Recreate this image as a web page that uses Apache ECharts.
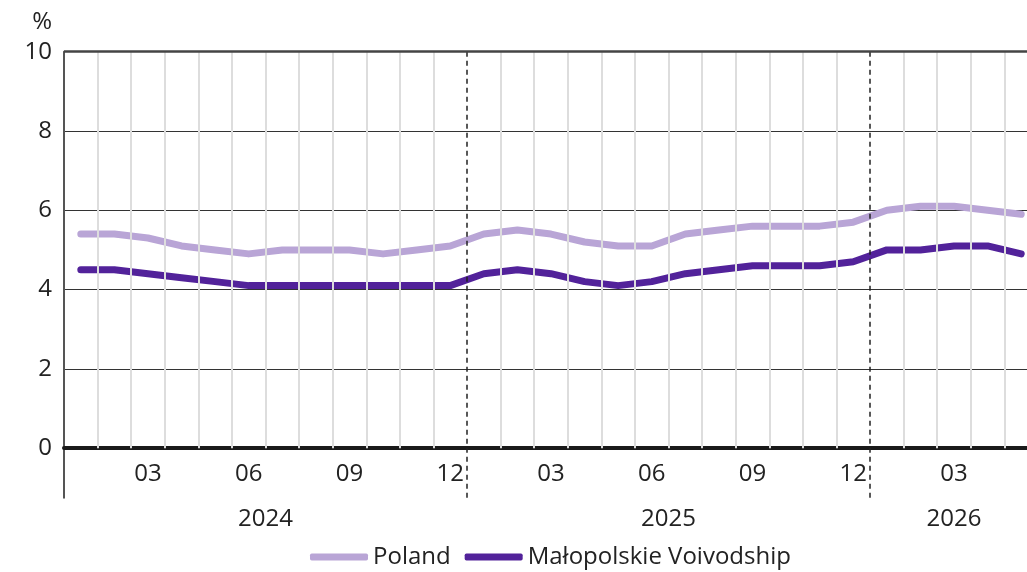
<!DOCTYPE html>
<html>
<head>
<meta charset="utf-8">
<script src="https://cdn.jsdelivr.net/npm/echarts@6/dist/echarts.min.js"></script>
<style>html,body{margin:0;padding:0;background:#fff;overflow:hidden}#c{width:1038px;height:572px}</style>
</head>
<body>
<div id="c"></div>
<script>
const months = ['2024-01','2024-02','2024-03','2024-04','2024-05','2024-06','2024-07','2024-08','2024-09','2024-10','2024-11','2024-12',
  '2025-01','2025-02','2025-03','2025-04','2025-05','2025-06','2025-07','2025-08','2025-09','2025-10','2025-11','2025-12',
  '2026-01','2026-02','2026-03','2026-04','2026-05'];
const poland = [5.4,5.4,5.3,5.1,5.0,4.9,5.0,5.0,5.0,4.9,5.0,5.1,
  5.4,5.5,5.4,5.2,5.1,5.1,5.4,5.5,5.6,5.6,5.6,5.7,
  6.0,6.1,6.1,6.0,5.9];
const malopolska = [4.5,4.5,4.4,4.3,4.2,4.1,4.1,4.1,4.1,4.1,4.1,4.1,
  4.4,4.5,4.4,4.2,4.1,4.2,4.4,4.5,4.6,4.6,4.6,4.7,
  5.0,5.0,5.1,5.1,4.9];
const yTicks = [0,2,4,6,8,10];
const shownMonths = ['03','06','09','12'];
const seriesNames = ['Poland','Małopolskie Voivodship'];
const yMin = -1.25, yMax = 10;

const FONT = 'Open Sans';
const GRID = {left:64, right:0, top:51.7, bottom:74.3};
const H = 572;
const n = months.length;
const gridH = H - GRID.top - GRID.bottom;
const zeroOffset = -(0 - yMin) * gridH / (yMax - yMin);

const years = [];
months.forEach((m, i) => {
  const y = m.slice(0,4);
  if (!years.length || years[years.length-1].year !== y) years.push({year:y, start:i, end:i+1});
  else years[years.length-1].end = i+1;
});
const yearCenters = years.map(y => (y.start + y.end)/2);
const yearStarts = years.slice(1).map(y => y.start);

const gridLines = [];
for (let k = 1; k < n; k++) {
  if (yearStarts.indexOf(k) >= 0) continue;
  gridLines.push([{coord:[k,0]},{coord:[k,yMax]}]);
}
const dashLines = yearStarts.map(k => [{coord:[k,yMin],lineStyle:{color:'#222',width:1.5,type:[5,4]}},{coord:[k,yMax]}]);
const topLine = [[{coord:[0,yMax],lineStyle:{color:'#444',width:2.5,type:'solid'}},{coord:[n,yMax]}]];

const chart = echarts.init(document.getElementById('c'), null, {renderer:'canvas'});
chart.setOption({
  animation:false,
  textStyle:{fontFamily:FONT},
  grid:Object.assign({containLabel:false}, GRID),
  legend:{
    data:seriesNames, left:305, top:540, icon:'roundRect', itemWidth:58, itemHeight:7, itemGap:14,
    textStyle:{fontFamily:FONT, fontSize:24, color:'#222'}
  },
  xAxis:[{
    type:'category', data:months, boundaryGap:true, position:'bottom', offset:zeroOffset,
    axisLine:{onZero:false, lineStyle:{color:'#1a1a1a', width:4}},
    axisTick:{show:false},
    splitLine:{show:false},
    axisLabel:{
      interval:(i, v) => shownMonths.indexOf(v.slice(5)) >= 0,
      formatter:v => v.slice(5), fontSize:24, color:'#222', margin:14, fontFamily:FONT
    }
  },{
    type:'value', min:0, max:n, position:'bottom',
    axisLine:{show:false, onZero:false}, axisTick:{show:false}, splitLine:{show:false},
    axisLabel:{
      customValues:yearCenters, fontSize:24, color:'#222', margin:9, fontFamily:FONT,
      formatter:v => { const i = yearCenters.indexOf(v); return i >= 0 ? years[i].year : ''; }
    }
  }],
  yAxis:{
    type:'value', min:yMin, max:yMax,
    name:'%', nameLocation:'end', nameGap:18,
    nameTextStyle:{fontSize:24, color:'#222', align:'right', padding:[0,12,0,0], fontFamily:FONT},
    axisLine:{show:true, onZero:false, lineStyle:{color:'#555', width:2}},
    axisTick:{show:false, customValues:yTicks},
    axisLabel:{customValues:yTicks, fontSize:24, color:'#222', margin:12, fontFamily:FONT},
    splitLine:{show:true, lineStyle:{color:'#333', width:1}}
  },
  series:[{
    name:'grid', type:'line', xAxisIndex:1, yAxisIndex:0, data:[], z:1, silent:true,
    markLine:{
      silent:true, symbol:['none','none'], label:{show:false}, animation:false,
      lineStyle:{color:'#dddddd', width:2, type:'solid'},
      data: gridLines.concat(dashLines).concat(topLine)
    }
  },{
    name:seriesNames[0], type:'line', data:poland, xAxisIndex:0, showSymbol:false, symbol:'none', z:3,
    itemStyle:{color:'#b9a5d6'},
    lineStyle:{color:'#b9a5d6', width:7, cap:'round', join:'round'}
  },{
    name:seriesNames[1], type:'line', data:malopolska, xAxisIndex:0, showSymbol:false, symbol:'none', z:4,
    itemStyle:{color:'#52229a'},
    lineStyle:{color:'#52229a', width:7, cap:'round', join:'round'}
  }]
});
</script>
</body>
</html>
